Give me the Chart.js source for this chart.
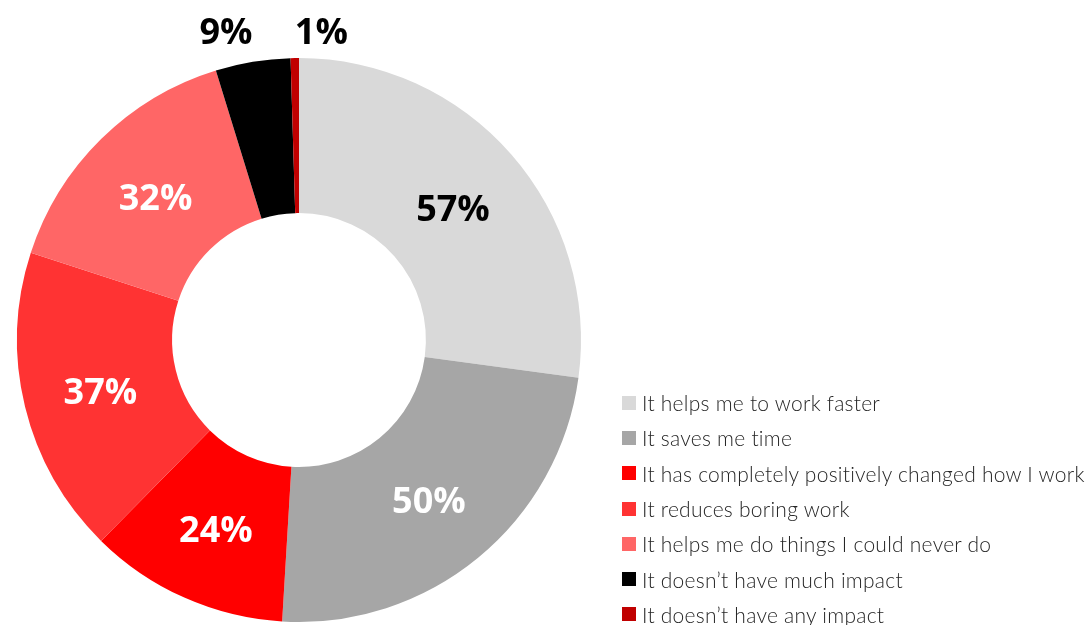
<!DOCTYPE html>
<html lang="en">
<head>
    <meta charset="UTF-8">
    <title>AI impact doughnut</title>
    <script src="https://cdn.jsdelivr.net/npm/chart.js"></script>
    <style>
        body {
            margin: 0;
            background: #fff;
        }
        #wrap {
            width: 1092px;
            height: 625px;
            position: relative;
            overflow: hidden;
        }
        #legend {
            position: absolute;
            left: 622px;
            top: 385px;
            font-family: Lato, sans-serif;
            font-weight: 300;
            font-size: 21px;
            letter-spacing: 0.25px;
            color: #262626;
            white-space: nowrap;
        }
        #legend .row {
            display: flex;
            align-items: center;
            height: 35.3px;
        }
        #legend .box {
            width: 14px;
            height: 14px;
            margin-right: 6px;
        }
    </style>
</head>
<body>
    <div id="wrap">
        <canvas id="impactChart"></canvas>
        <div id="legend"></div>
    </div>

    <script>
        const labels = [
            'It helps me to work faster',
            'It saves me time',
            'It has completely positively changed how I work',
            'It reduces boring work',
            'It helps me do things I could never do',
            'It doesn\u2019t have much impact',
            'It doesn\u2019t have any impact'
        ];
        const values = [57, 50, 24, 37, 32, 9, 1];
        const colors = ['#D9D9D9', '#A6A6A6', '#FF0000', '#FF3333', '#FF6666', '#000000', '#C00000'];
        const labelColors = ['#000', '#fff', '#fff', '#fff', '#fff', '#000', '#000'];

        // value labels: inside the ring for big slices, above the ring for tiny ones
        const sliceLabels = {
            id: 'sliceLabels',
            afterDatasetsDraw(chart) {
                const ctx = chart.ctx;
                const arcs = chart.getDatasetMeta(0).data;
                ctx.save();
                ctx.font = 'bold 36px "Open Sans", sans-serif';
                ctx.textAlign = 'center';
                ctx.textBaseline = 'middle';
                arcs.forEach((arc, i) => {
                    const mid = (arc.startAngle + arc.endAngle) / 2;
                    let x, y;
                    if (values[i] < 10) {
                        const nudge = values[i] < 5 ? 27 : -22;
                        x = arc.x + Math.cos(mid) * (arc.outerRadius + 30) + nudge;
                        y = arc.y - arc.outerRadius - 24;
                    } else {
                        const r = (arc.innerRadius + arc.outerRadius) / 2;
                        x = arc.x + Math.cos(mid) * r;
                        y = arc.y + Math.sin(mid) * r + 5;
                    }
                    ctx.fillStyle = labelColors[i];
                    ctx.fillText(values[i] + '%', x, y);
                });
                ctx.restore();
            }
        };

        const ctx = document.getElementById('impactChart').getContext('2d');
        const chart = new Chart(ctx, {
            type: 'doughnut',
            data: {
                labels: labels,
                datasets: [{
                    data: values,
                    backgroundColor: colors,
                    borderWidth: 0
                }]
            },
            options: {
                responsive: true,
                maintainAspectRatio: false,
                animation: false,
                cutout: '45%',
                layout: {
                    padding: { top: 58, bottom: 3, left: 17, right: 511 }
                },
                plugins: {
                    legend: { display: false },
                    tooltip: { enabled: true }
                }
            },
            plugins: [sliceLabels]
        });

        // legend built from the same arrays
        const legendEl = document.getElementById('legend');
        labels.forEach((lab, i) => {
            const row = document.createElement('div');
            row.className = 'row';
            const box = document.createElement('span');
            box.className = 'box';
            box.style.background = colors[i];
            const txt = document.createElement('span');
            txt.textContent = lab;
            row.appendChild(box);
            row.appendChild(txt);
            legendEl.appendChild(row);
        });
    </script>
</body>
</html>
